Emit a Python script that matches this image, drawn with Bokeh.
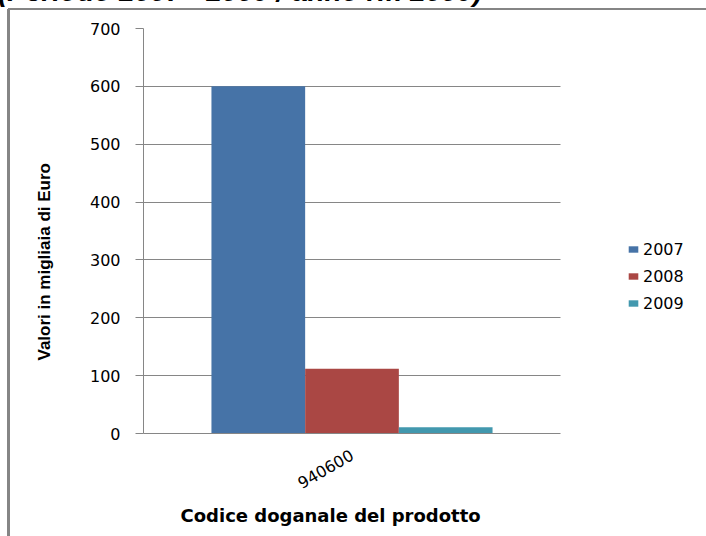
import math
from bokeh.plotting import figure
from bokeh.models import (Range1d, Legend, LegendItem, FixedTicker, Div, Title)
from bokeh.embed import file_html
from bokeh.resources import INLINE

# ---- data ----
categories = ["940600"]
years = ["2007", "2008", "2009"]
values_2007 = [600]
values_2008 = [112]
values_2009 = [11]
y_ticks = [0, 100, 200, 300, 400, 500, 600, 700]
colors = ["#4673A7", "#AA4744", "#4298AE"]

title_text = "(Periodo 2007 - 2009 / anno rif. 2009)"
x_title = "Codice doganale del prodotto"
y_title = "Valori in migliaia di Euro"

# category positions on a numeric axis (one slot per category, slot width 1)
cat_pos = list(range(len(categories)))
bw = 0.2247
offsets = [-bw, 0.0, bw]
series = [values_2007, values_2008, values_2009]

# plot area: category slot 143..560 px, legend lives in the same frame to its right
W, H = 706, 536
left, bottom, top = 143, 103, 28
slot_px = 417.0
x_end = -0.5 + (W - left) / slot_px

p = figure(width=W, height=H, x_range=Range1d(-0.5, x_end), y_range=Range1d(0, 700),
           output_backend="svg", toolbar_location=None,
           min_border_left=left, min_border_right=0, min_border_top=top,
           min_border_bottom=bottom)
p.styles = {
    "position": "fixed", "left": "0px", "top": "0px",
    "background-color": "white",
    "background-image": "linear-gradient(#858585, #858585), linear-gradient(#858585, #858585)",
    "background-size": "3px 527px, 698px 2px",
    "background-position": "7px 9px, 8px 8px",
    "background-repeat": "no-repeat",
}
p.outline_line_color = None
p.background_fill_alpha = 0
p.border_fill_alpha = 0

grid_col = "#868686"
p.xgrid.grid_line_color = None
ygrid = p.ygrid[0]
if "cross_bounds" in ygrid.properties():
    ygrid.cross_bounds = (-0.5, 0.5)
    ygrid.grid_line_color = grid_col
    ygrid.ticker = FixedTicker(ticks=y_ticks)
else:
    ygrid.grid_line_color = None
    p.segment(x0=[-0.5] * len(y_ticks), x1=[0.5] * len(y_ticks), y0=y_ticks, y1=y_ticks,
              line_color=grid_col, line_width=1)

renderers = []
for vals, off, col in zip(series, offsets, colors):
    xs = [c + off for c in cat_pos]
    r = p.vbar(x=xs, top=vals, width=bw, bottom=0, fill_color=col, line_color=None)
    renderers.append(r)

# y axis
p.yaxis.ticker = FixedTicker(ticks=y_ticks)
p.yaxis.axis_line_color = grid_col
p.yaxis.major_tick_line_color = grid_col
p.yaxis.major_tick_out = 8
p.yaxis.major_tick_in = 0
p.yaxis.minor_tick_line_color = None
p.yaxis.major_label_text_font = "DejaVu Sans"
p.yaxis.major_label_text_font_size = "16px"
p.yaxis.major_label_text_color = "black"
p.yaxis.major_label_standoff = 15

# x axis
p.xaxis.ticker = FixedTicker(ticks=cat_pos)
p.xaxis.major_label_overrides = {c: n for c, n in zip(cat_pos, categories)}
p.xaxis.bounds = (-0.5, len(categories) - 0.5)
p.xaxis.axis_line_color = grid_col
p.xaxis.major_tick_line_color = None
p.xaxis.minor_tick_line_color = None
p.xaxis.major_label_orientation = math.pi / 6
p.xaxis.major_label_text_font = "DejaVu Sans"
p.xaxis.major_label_text_font_size = "16px"
p.xaxis.major_label_text_color = "black"
p.xaxis.major_label_standoff = 14

# axis titles (placed as side-panel titles so they sit where the original has them)
xt = Title(text=x_title, align="left", vertical_align="top", offset=37, standoff=15,
           text_font="DejaVu Sans", text_font_style="bold", text_font_size="18px",
           text_color="black")
p.add_layout(xt, "below")
yt = Title(text=y_title, align="left", vertical_align="top", offset=73, standoff=62,
           text_font="Liberation Sans", text_font_style="bold", text_font_size="17px",
           text_color="black")
p.add_layout(yt, "left")

# legend
items = [LegendItem(label=y, renderers=[r]) for y, r in zip(years, renderers)]
legend = Legend(items=items, location=(484, 120), orientation="vertical",
                glyph_width=12, glyph_height=8, label_standoff=4,
                label_height=20, spacing=7, padding=0, margin=0,
                border_line_color=None, background_fill_alpha=0,
                label_text_font="DejaVu Sans", label_text_font_size="16px",
                label_text_color="black")
p.add_layout(legend, "center")

# title, cut off at the top of the slide as in the original
title = Div(text=title_text, width=560, height=31, styles={
    "position": "fixed", "left": "-2px", "top": "-24px", "z-index": "10",
    "font-family": "'Liberation Sans', Arial, sans-serif", "font-weight": "bold",
    "font-style": "italic", "font-size": "28px", "line-height": "31px",
    "white-space": "nowrap", "color": "black", "margin": "0px", "padding": "0px",
    "background": "transparent",
})

open("out.html", "w").write(file_html([title, p], INLINE))
